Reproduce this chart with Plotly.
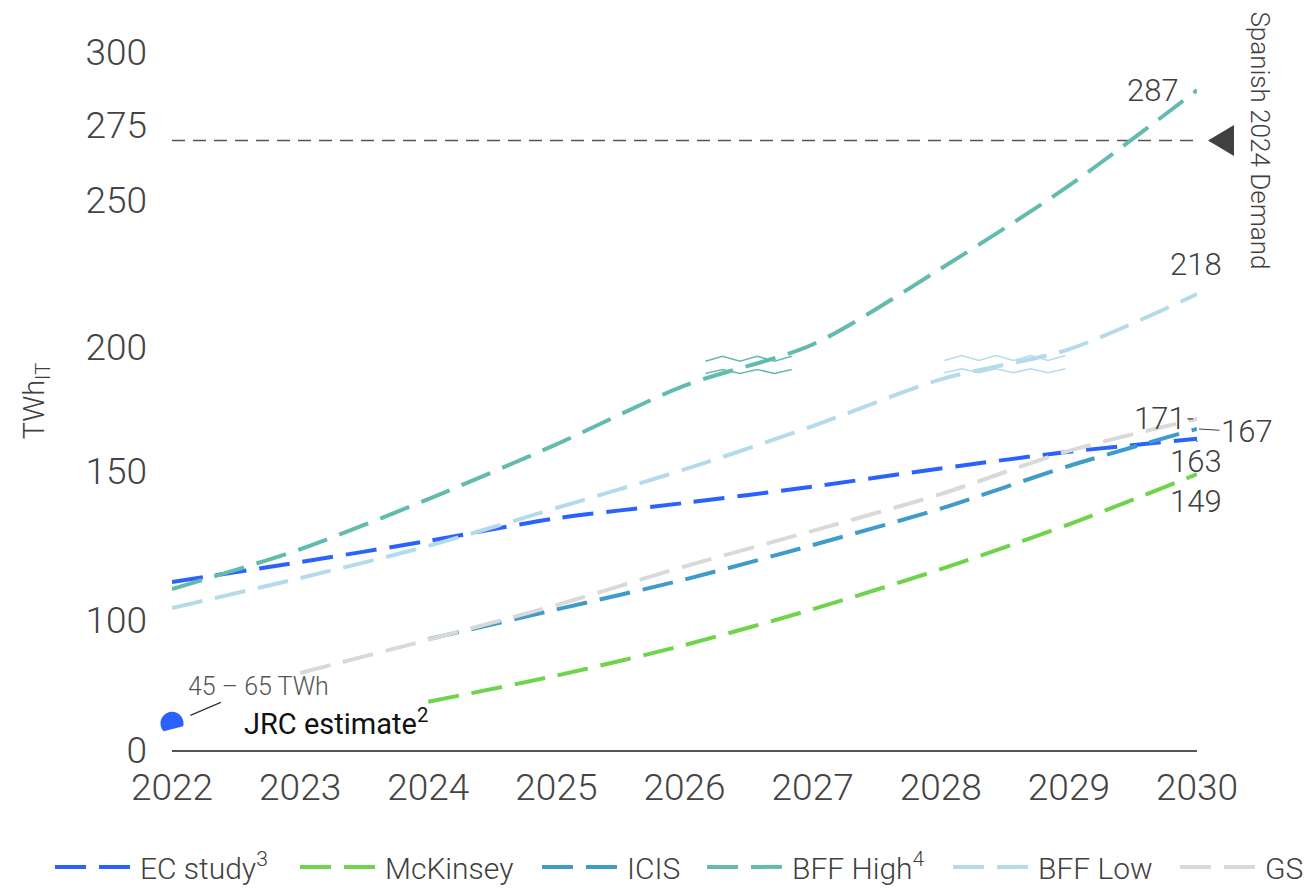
import numpy as np
import plotly.graph_objects as go

# ---- data -----------------------------------------------------------------
years = [2022, 2023, 2024, 2025, 2026, 2027, 2028, 2029, 2030]

ec_study = [112.7, 119.4, 126.5, 134.1, 139.3, 144.8, 151.1, 157.8, 163]
mckinsey = [None, None, 72.3, 81.1, 91.4, 103.5, 117.0, 132.1, 149]
icis = [None, None, 93.4, 103.4, 113.5, 125.1, 137.4, 152.1, 167]
bff_high = [110.3, 123.7, 140.6, 160.8, 184.4, 200.8, 226.7, 254.9, 287]
bff_low = [103.9, 114.0, 124.8, 137.6, 150.7, 168.1, 186.9, 199.0, 218]
gs = [None, 82.0, 93.2, 104.9, 117.9, 129.9, 142.3, 158.2, 171]

spain_2024_demand = 270
jrc_estimate = (45, 65)

y_tick_values = [56, 100, 150, 200, 250, 275, 300]
y_tick_labels = ["0", "100", "150", "200", "250", "275", "300"]

# ---- value axis -----------------------------------------------------------
# The value axis is non-uniform: everything below the break (56) is cut away and
# the "0" label sits on the break; each labelled band has its own height (px).
SCALE_VALUES = [56, 100, 150, 200, 250, 275, 300]
SCALE_HEIGHT = [0, 130.5, 279, 403.5, 550, 625, 698.5]


def to_axis(v):
    if v is None:
        return None
    return float(np.interp(v, SCALE_VALUES, SCALE_HEIGHT))


MARGIN_L, MARGIN_R, MARGIN_T, MARGIN_B = 172, 117, 51.5, 138
PLOT_W = 1314 - MARGIN_L - MARGIN_R
PLOT_H = 888 - MARGIN_T - MARGIN_B
PX_PER_YEAR = PLOT_W / (years[-1] - years[0])
LEGEND_Y_PX = 867

FONT = "Roboto, 'Open Sans', sans-serif"
TEXT = "#404040"

# name, values, colour, left edge (px) of the legend entry
series = [
    ("EC study<sup>3</sup>", ec_study, "#2962FF", 55),
    ("McKinsey", mckinsey, "#6FD34B", 300),
    ("ICIS", icis, "#3F9BC9", 542),
    ("BFF High<sup>4</sup>", bff_high, "#62BBAE", 707),
    ("BFF Low", bff_low, "#B5DBEB", 953),
    ("GS", gs, "#D9D9D9", 1180),
]

fig = go.Figure()

# reference line: Spanish 2024 electricity demand
fig.add_trace(go.Scatter(
    x=[years[0], years[-1]], y=[to_axis(spain_2024_demand)] * 2,
    mode="lines", line=dict(color="#555555", width=1.6, dash="13px,8px"),
    showlegend=False, hoverinfo="skip"))

legend_layouts = {}
for i, (name, vals, color, lx) in enumerate(series):
    legend_id = "legend" if i == 0 else f"legend{i + 1}"
    xs = [x for x, v in zip(years, vals) if v is not None]
    ys = [to_axis(v) for v in vals if v is not None]
    fig.add_trace(go.Scatter(
        x=xs, y=ys, name=name, mode="lines", legend=legend_id,
        line=dict(color=color, width=4, dash="31px,13px", shape="spline",
                  smoothing=0.8),
        hoverinfo="skip"))
    legend_layouts[legend_id] = dict(
        orientation="h", x=(lx - 5 - MARGIN_L) / PLOT_W, xanchor="left",
        y=-(LEGEND_Y_PX - (MARGIN_T + PLOT_H)) / PLOT_H, yanchor="middle",
        itemwidth=80, bgcolor="rgba(0,0,0,0)",
        font=dict(family=FONT, size=30, color=TEXT, weight=300))


def break_marks(x_center, vals, color, n_seg):
    """Two parallel zig-zags drawn across a series to flag a break."""
    xs_known = [x for x, v in zip(years, vals) if v is not None]
    ys_known = [to_axis(v) for v in vals if v is not None]
    yc = float(np.interp(x_center, xs_known, ys_known))
    seg = 17.3 / PX_PER_YEAR
    k = np.arange(n_seg + 1)
    xz = x_center + (k - n_seg / 2) * seg
    top = yc + np.where(k % 2 == 0, 3.8, 8.8)
    bottom = yc + np.where(k % 2 == 0, -8.4, -4.5)
    for yz in (top, bottom):
        fig.add_trace(go.Scatter(
            x=xz, y=yz, mode="lines", line=dict(color=color, width=1.6),
            showlegend=False, hoverinfo="skip"))


break_marks(2026.5, bff_high, "#62BBAE", 5)
break_marks(2028.5, bff_low, "#B5DBEB", 7)

shapes = []

# JRC estimate: round marker capped at the top of its range, cut by the break
theta = np.radians(np.linspace(-15, 224, 60))
r = 11.5
pts = [(r * np.cos(t), r * np.sin(t)) for t in theta]
path = "M " + " L ".join(f"{px:.2f},{py:.2f}" for px, py in pts) + " Z"
shapes.append(dict(
    type="path", xref="paper", yref="y", xsizemode="pixel", ysizemode="pixel",
    xanchor=0, yanchor=to_axis(jrc_estimate[1]), path=path,
    fillcolor="#2962FF", line=dict(width=0), layer="above"))

# demand marker (triangle at the right end of the reference line)
shapes.append(dict(
    type="path", xref="paper", yref="y", xsizemode="pixel", ysizemode="pixel",
    xanchor=1, yanchor=to_axis(spain_2024_demand),
    path="M 11,0 L 37,15.5 L 37,-15.5 Z",
    fillcolor="#404040", line=dict(width=0), layer="above"))

annotations = []
lab_font = dict(family=FONT, size=31, color=TEXT, weight=300)

# end-of-line value labels
annotations.append(dict(x=2030, y=to_axis(bff_high[-1]), text=str(bff_high[-1]),
                        showarrow=False, xanchor="right", xshift=-16,
                        font=lab_font))
annotations.append(dict(x=2030, y=to_axis(bff_low[-1]), text=str(bff_low[-1]),
                        showarrow=False, yshift=30, xshift=-1, font=lab_font))
annotations.append(dict(x=2030, y=to_axis(gs[-1]), text=str(gs[-1]),
                        showarrow=True, arrowhead=0, arrowwidth=1.2,
                        arrowcolor=TEXT, ax=-37, ay=0, standoff=4,
                        font=lab_font))
annotations.append(dict(x=2030, y=to_axis(icis[-1]), text=str(icis[-1]),
                        showarrow=True, arrowhead=0, arrowwidth=1.2,
                        arrowcolor=TEXT, ax=50, ay=3, standoff=2,
                        font=lab_font))
annotations.append(dict(x=2030, y=to_axis(ec_study[-1]), text=str(ec_study[-1]),
                        showarrow=True, arrowhead=0, arrowwidth=1.2,
                        arrowcolor=TEXT, ax=-1, ay=23, standoff=2,
                        font=lab_font))
annotations.append(dict(x=2030, y=to_axis(mckinsey[-1]), text=str(mckinsey[-1]),
                        showarrow=False, yshift=-27, xshift=-1, font=lab_font))

# demand label, rotated, centred on the reference line
annotations.append(dict(x=2030, y=to_axis(spain_2024_demand),
                        text="Spanish 2024 Demand", textangle=90,
                        showarrow=False, xshift=63,
                        font=dict(family=FONT, size=26, color=TEXT, weight=300)))

# JRC estimate labels
annotations.append(dict(x=2022, y=to_axis(jrc_estimate[1]),
                        text=f"{jrc_estimate[0]} – {jrc_estimate[1]} TWh",
                        showarrow=True, arrowhead=0, arrowwidth=1.2,
                        arrowcolor="#333333", ax=86, ay=-37, standoff=20,
                        font=dict(family=FONT, size=25, color="#555555",
                                  weight=300)))
annotations.append(dict(x=2022, y=to_axis(jrc_estimate[1]),
                        text="JRC estimate<sup>2</sup>", showarrow=False,
                        xanchor="left", xshift=70, yshift=1,
                        font=dict(family=FONT, size=29, color="#111111")))

tick_font = dict(family=FONT, size=37, color="#444444", weight=300)

fig.update_layout(
    width=1314, height=888,
    margin=dict(l=MARGIN_L, r=MARGIN_R, t=MARGIN_T, b=MARGIN_B,
                autoexpand=False),
    paper_bgcolor="white", plot_bgcolor="white",
    hovermode=False,
    xaxis=dict(range=[years[0], years[-1]], tickvals=years,
               ticktext=[str(y) for y in years], showgrid=False,
               zeroline=False, showline=True, linecolor="#555555",
               linewidth=2, ticks="", tickfont=tick_font,
               ticklabelstandoff=4),
    yaxis=dict(range=[0, SCALE_HEIGHT[-1]],
               tickvals=[to_axis(v) for v in y_tick_values],
               ticktext=y_tick_labels, showgrid=False, zeroline=False,
               showline=False, ticks="", tickfont=tick_font,
               ticklabelstandoff=24,
               title=dict(text="TWh<sub>IT</sub>", standoff=32,
                          font=dict(family=FONT, size=29, color=TEXT,
                                    weight=300))),
    shapes=shapes,
    annotations=annotations,
    **legend_layouts,
)

fig.write_html("out.html")
